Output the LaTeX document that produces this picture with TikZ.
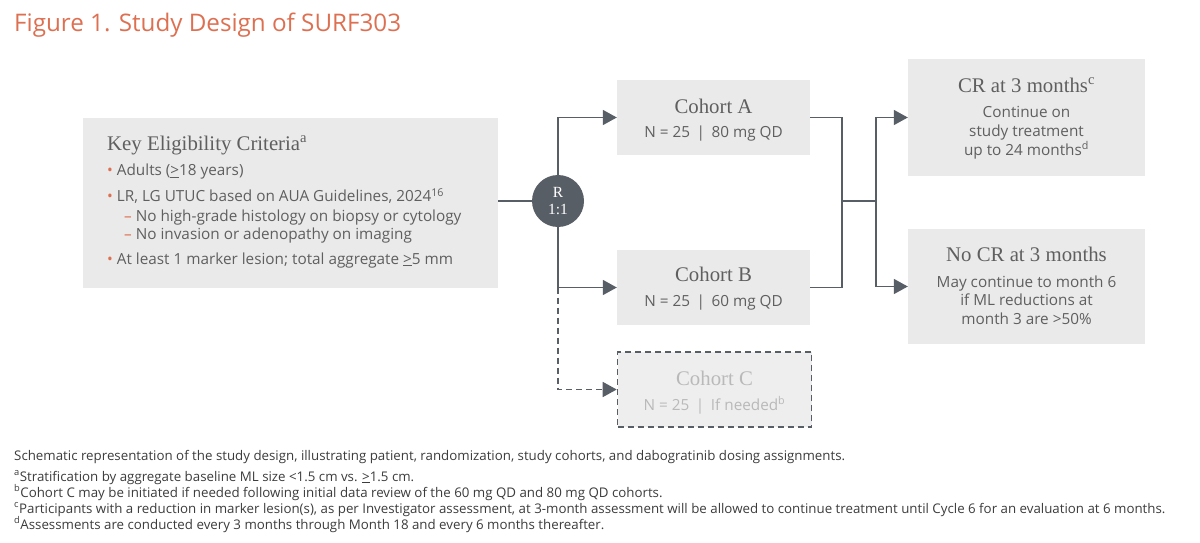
\documentclass[tikz,border=0pt]{standalone}
\usepackage{fontspec}
\setmainfont{Open Sans}
\newfontfamily\slab{Liberation Serif}
\usetikzlibrary{arrows.meta}
\definecolor{boxgray}{RGB}{234,234,234}
\definecolor{boxgrayc}{RGB}{238,238,238}
\definecolor{linegray}{RGB}{88,94,102}
\definecolor{txtgray}{RGB}{95,95,95}
\definecolor{fadegray}{RGB}{185,185,185}
\definecolor{salmon}{RGB}{222,112,82}
\definecolor{footgray}{RGB}{60,60,60}
\tikzset{
  graybox/.style={rectangle, fill=boxgray, draw=none, inner sep=0pt},
  conn/.style={draw=linegray, line width=1.8pt},
  arr/.style={conn, -{Triangle[length=14pt,width=15pt]}},
  dashline/.style={dash pattern=on 6pt off 4pt, line width=1.6pt},
  head/.style={font=\slab\fontsize{20.8}{23}\selectfont, text=txtgray, anchor=base, inner sep=0pt},
  body/.style={font=\fontsize{15.3}{18}\selectfont, text=txtgray, anchor=base, inner sep=0pt},
  bodyl/.style={body, anchor=base west},
  foot/.style={font=\fontsize{13.3}{15}\selectfont, text=footgray, anchor=base west, inner sep=0pt},
}
\newcommand{\bul}{{\color{salmon}\textbullet}}
\newcommand{\dsh}{{\color{salmon}--}}
\newcommand{\geu}{\underline{>}}
\begin{document}
\begin{tikzpicture}[x=1pt,y=-1pt]
\useasboundingbox (0,0) rectangle (1200,543);
\fill[white] (0,0) rectangle (1200,543);
% title
\node[anchor=base west, inner sep=0pt, text=salmon, font=\fontsize{24.2}{28}\selectfont] (title) at (14,32) {Figure 1. Study Design of SURF303};
% eligibility box
\node[graybox, minimum width=415pt, minimum height=170pt] (elig) at (290.5,203) {};
\node[head, anchor=base west] (eh) at (107,150.5) {Key Eligibility Criteria\textsuperscript{a}};
\node[bodyl] (e1) at (107,175.5) {\bul\ Adults (\geu18 years)};
\node[bodyl] (e2) at (107,201.5) {\bul\ LR, LG UTUC based on AUA Guidelines, 2024\textsuperscript{16}};
\node[bodyl] (e3) at (124,221) {\dsh\ No high-grade histology on biopsy or cytology};
\node[bodyl] (e4) at (124,239.5) {\dsh\ No invasion or adenopathy on imaging};
\node[bodyl] (e5) at (107,264) {\bul\ At least 1 marker lesion; total aggregate \geu5 mm};
% randomization circle
\node[circle, fill=linegray, minimum size=52pt, inner sep=0pt, text=white, align=center,
      font=\slab\fontsize{15.5}{17}\selectfont] (r) at (558,201) {R\\1:1};
% cohort boxes
\node[graybox, minimum width=193pt, minimum height=75pt] (ca) at (713.5,117.5) {};
\node[head] (cat) at (713.5,113.3) {Cohort A};
\node[body] (can) at (713.5,137.7) {N = 25 \,|\, 80 mg QD};
\node[graybox, minimum width=193pt, minimum height=75pt] (cb) at (713.5,287.5) {};
\node[head] (cbt) at (713.5,281.7) {Cohort B};
\node[body] (cbn) at (713.5,306.7) {N = 25 \,|\, 60 mg QD};
\node[rectangle, fill=boxgrayc, draw=linegray, dashline, minimum width=194pt, minimum height=75pt, inner sep=0pt] (cc) at (714.5,389.5) {};
\node[head, text=fadegray] (cct) at (714.5,385) {Cohort C};
\node[body, text=fadegray] (ccn) at (714.5,410) {N = 25 \,|\, If needed\textsuperscript{b}};
% outcome boxes
\node[graybox, minimum width=237pt, minimum height=117pt] (cr) at (1026.5,117.5) {};
\node[head] (crt) at (1026.5,92.3) {CR at 3 months\textsuperscript{c}};
\node[body] (cr1) at (1026.5,117.7) {Continue on};
\node[body] (cr2) at (1026.5,136.7) {study treatment};
\node[body] (cr3) at (1026.5,155) {up to 24 months\textsuperscript{d}};
\node[graybox, minimum width=237pt, minimum height=115pt] (ncr) at (1026.5,286.5) {};
\node[head] (ncrt) at (1026.5,261.7) {No CR at 3 months};
\node[body] (ncr1) at (1026.5,287.3) {May continue to month 6};
\node[body] (ncr2) at (1026.5,305.7) {if ML reductions at};
\node[body] (ncr3) at (1026.5,324.3) {month 3 are >50\%};
% connectors
\draw[conn] (elig.east |- r.west) -- (r.west);
\draw[arr] (r.north) |- (ca.west);
\draw[arr] (r.south) |- (cb.west);
\draw[arr, dashline] (r.south |- cb.west) |- (cc.west);
\coordinate (jl) at (842,201);
\coordinate (jr) at (876,201);
\draw[conn] (ca.east) -| (jl) |- (cb.east);
\draw[conn] (jl) -- (jr);
\draw[arr] (jr) |- (cr.west);
\draw[arr] (jr) |- (ncr.west);
% footnotes
\node[foot] (f0) at (14,460) {Schematic representation of the study design, illustrating patient, randomization, study cohorts, and dabogratinib dosing assignments.};
\node[foot] (f1) at (14,481) {\textsuperscript{a}Stratification by aggregate baseline ML size <1.5 cm vs. \geu1.5 cm.};
\node[foot] (f2) at (14,497) {\textsuperscript{b}Cohort C may be initiated if needed following initial data review of the 60 mg QD and 80 mg QD cohorts.};
\node[foot] (f3) at (14,513) {\textsuperscript{c}Participants with a reduction in marker lesion(s), as per Investigator assessment, at 3-month assessment will be allowed to continue treatment until Cycle 6 for an evaluation at 6 months.};
\node[foot] (f4) at (14,529) {\textsuperscript{d}Assessments are conducted every 3 months through Month 18 and every 6 months thereafter.};
\end{tikzpicture}
\end{document}
